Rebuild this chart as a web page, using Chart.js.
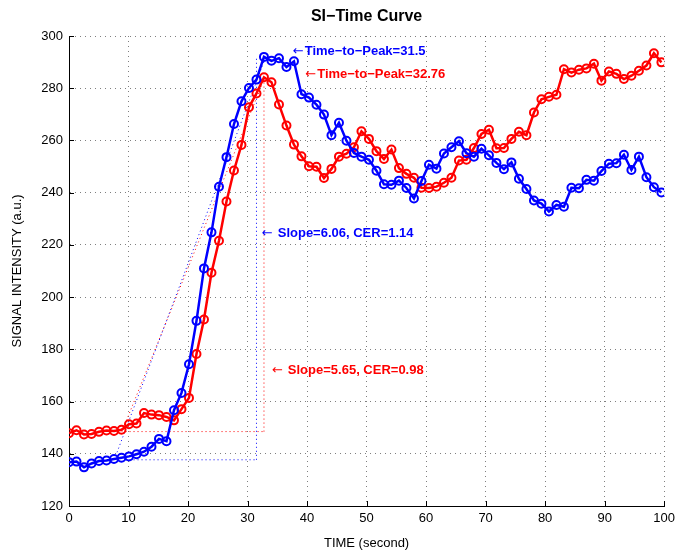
<!DOCTYPE html>
<html>
<head>
<meta charset="utf-8">
<title>SI-Time Curve</title>
<script src="https://cdn.jsdelivr.net/npm/chart.js@4.4.1/dist/chart.umd.min.js"></script>
<style>
  html, body { margin: 0; padding: 0; background: #ffffff; }
  #wrap { width: 680px; height: 555px; }
</style>
</head>
<body>
<div id="wrap"><canvas id="si" width="680" height="555"></canvas></div>
<script>
// Acquisition instants (seconds)
const timeSec = [
  0.00, 1.26, 2.52, 3.78, 5.04, 6.30, 7.56, 8.82, 10.08, 11.34,
  12.60, 13.86, 15.12, 16.38, 17.64, 18.90, 20.16, 21.42, 22.68, 23.94,
  25.20, 26.46, 27.72, 28.98, 30.24, 31.50, 32.76, 34.02, 35.28, 36.54,
  37.80, 39.06, 40.32, 41.58, 42.84, 44.10, 45.36, 46.62, 47.88, 49.14,
  50.40, 51.66, 52.92, 54.18, 55.44, 56.70, 57.96, 59.22, 60.48, 61.74,
  63.00, 64.26, 65.52, 66.78, 68.04, 69.30, 70.56, 71.82, 73.08, 74.34,
  75.60, 76.86, 78.12, 79.38, 80.64, 81.90, 83.16, 84.42, 85.68, 86.94,
  88.20, 89.46, 90.72, 91.98, 93.24, 94.50, 95.76, 97.02, 98.28, 99.54
];

// Signal intensity, first region (blue)
const siBlue = [
  136.8, 137.0, 134.8, 136.3, 137.2, 137.4, 138.0, 138.5, 139.0, 139.8,
  140.8, 142.7, 145.7, 144.8, 156.7, 163.3, 174.3, 190.9, 211.0, 224.8,
  242.3, 253.6, 266.3, 275.0, 280.1, 283.3, 292.0, 290.5, 291.5, 288.1,
  290.3, 277.7, 276.4, 273.7, 269.9, 262.0, 266.8, 259.9, 255.2, 253.8,
  252.6, 248.4, 243.2, 243.0, 244.6, 241.8, 237.8, 244.5, 250.7, 249.2,
  255.0, 257.4, 259.7, 255.1, 253.8, 256.8, 254.3, 251.4, 249.0, 251.6,
  245.3, 241.4, 237.0, 235.8, 232.8, 235.3, 234.6, 241.9, 241.7, 244.9,
  244.6, 248.3, 251.1, 251.3, 254.5, 248.7, 253.8, 245.9, 242.1, 240.1
];

// Signal intensity, second region (red)
const siRed = [
  147.9, 149.0, 147.4, 147.6, 148.4, 148.9, 148.7, 149.2, 151.3, 151.6,
  155.6, 155.0, 154.8, 154.1, 152.8, 157.1, 161.4, 178.2, 191.4, 209.3,
  221.6, 236.6, 248.5, 258.3, 272.7, 278.0, 284.2, 282.3, 273.8, 265.7,
  258.4, 253.9, 250.1, 249.9, 245.6, 249.1, 253.8, 254.9, 257.4, 263.5,
  260.6, 255.9, 252.9, 256.5, 249.4, 247.2, 245.7, 241.9, 241.8, 242.3,
  243.8, 245.7, 252.3, 252.6, 257.1, 262.5, 264.1, 257.0, 257.1, 260.6,
  263.3, 262.0, 270.7, 275.8, 276.7, 277.5, 287.3, 286.0, 287.1, 287.6,
  289.4, 282.9, 286.4, 285.5, 283.5, 284.8, 286.7, 288.7, 293.4, 289.9
];

// Axis ticks
const xTicks = [0, 10, 20, 30, 40, 50, 60, 70, 80, 90, 100];
const yTicks = [120, 140, 160, 180, 200, 220, 240, 260, 280, 300];

// Kinetic parameters of each curve
const ttpBlue = 31.5, ttpRed = 32.76;
const slopeBlue = 6.06, slopeRed = 5.65;
const cerBlue = 1.14, cerRed = 0.98;
const baseBlue = 137.7, baseRed = 148.5;
const peakBlue = 292.0, peakRed = 284.2;
const onsetBlue = 7.6, onsetRed = 8.9;   // where the wash-in fit leaves the baseline
const baseStart = 9.5;                     // left end of the baseline markers

const TITLE = 'SI\u2212Time Curve';
const BLUE = '#0000ff';
const RED = '#ff0000';
const FONT = '"Liberation Sans", Arial, Helvetica, sans-serif';
const ARROW_FONT = '13px "DejaVu Sans", sans-serif';

const pts = (ys) => timeSec.map((t, i) => ({ x: t, y: ys[i] }));

function curve(label, ys, color) {
  return {
    label, data: pts(ys), borderColor: color, borderWidth: 2.5,
    pointStyle: 'circle', pointRadius: 4, pointHoverRadius: 4,
    pointBorderWidth: 2, pointBorderColor: color,
    pointBackgroundColor: 'rgba(0,0,0,0)', tension: 0, fill: false
  };
}
function dotted(label, data, color) {
  return {
    label, data, borderColor: color, borderWidth: 1, borderDash: [1, 3],
    pointRadius: 0, pointHoverRadius: 0, tension: 0, fill: false
  };
}

const datasets = [
  curve('blue', siBlue, BLUE),
  curve('red', siRed, RED),
  dotted('ttpBlue', [{ x: ttpBlue, y: baseBlue }, { x: ttpBlue, y: peakBlue }], BLUE),
  dotted('ttpRed', [{ x: ttpRed, y: baseRed }, { x: ttpRed, y: peakRed }], RED),
  dotted('baseBlue', [{ x: baseStart, y: baseBlue }, { x: ttpBlue, y: baseBlue }], BLUE),
  dotted('baseRed', [{ x: baseStart, y: baseRed }, { x: ttpRed, y: baseRed }], RED),
  dotted('slopeBlue', [{ x: onsetBlue, y: baseBlue },
    { x: onsetBlue + (peakBlue - baseBlue) / slopeBlue, y: peakBlue }], BLUE),
  dotted('slopeRed', [{ x: onsetRed, y: baseRed },
    { x: onsetRed + (peakRed - baseRed) / slopeRed, y: peakRed }], RED)
];

// Text notes (arrow + label), anchored in data units
const notes = [
  { text: 'Time\u2212to\u2212Peak=' + ttpBlue, gap: 1, x: 37.6, y: 294.1, color: BLUE },
  { text: 'Time\u2212to\u2212Peak=' + ttpRed, gap: 1, x: 39.7, y: 285.3, color: RED },
  { text: 'Slope=' + slopeBlue.toFixed(2) + ', CER=' + cerBlue.toFixed(2), gap: 5, x: 32.4, y: 224.3, color: BLUE },
  { text: 'Slope=' + slopeRed.toFixed(2) + ', CER=' + cerRed.toFixed(2), gap: 5, x: 34.1, y: 171.8, color: RED }
];

const notesPlugin = {
  id: 'notes',
  afterDatasetsDraw(chart) {
    const { ctx, scales: { x, y } } = chart;
    ctx.save();
    ctx.textAlign = 'left';
    ctx.textBaseline = 'middle';
    notes.forEach(n => {
      const px = x.getPixelForValue(n.x), py = y.getPixelForValue(n.y);
      ctx.fillStyle = n.color;
      ctx.font = ARROW_FONT;
      ctx.fillText('\u2190', px, py);
      const aw = ctx.measureText('\u2190').width;
      ctx.font = 'bold 13px ' + FONT;
      ctx.fillText(n.text, px + aw + n.gap, py);
    });
    ctx.restore();
  }
};

// Title centred over the plotting area
const plotTitle = {
  id: 'plotTitle',
  afterDraw(chart) {
    const { ctx, chartArea: a } = chart;
    ctx.save();
    ctx.font = 'bold 16px ' + FONT;
    ctx.fillStyle = '#000';
    ctx.textAlign = 'center';
    ctx.textBaseline = 'middle';
    ctx.fillText(TITLE, (a.left + a.right) / 2, 17);
    ctx.restore();
  }
};

// Short tick marks pointing into the plot
const inwardTicks = {
  id: 'inwardTicks',
  beforeDatasetsDraw(chart) {
    const { ctx, chartArea: a, scales: { x, y } } = chart;
    ctx.save();
    ctx.strokeStyle = '#000';
    ctx.lineWidth = 1;
    ctx.beginPath();
    xTicks.forEach(v => {
      const px = Math.round(x.getPixelForValue(v)) + 0.5;
      ctx.moveTo(px, a.bottom); ctx.lineTo(px, a.bottom - 5);
    });
    yTicks.forEach(v => {
      const py = Math.round(y.getPixelForValue(v)) + 0.5;
      ctx.moveTo(a.left, py); ctx.lineTo(a.left + 5, py);
    });
    ctx.stroke();
    ctx.restore();
  }
};

new Chart(document.getElementById('si'), {
  type: 'line',
  data: { datasets },
  plugins: [inwardTicks, notesPlugin, plotTitle],
  options: {
    responsive: false,
    animation: false,
    devicePixelRatio: 1,
    layout: { padding: { left: 0, right: 13, top: 36, bottom: 0 } },
    plugins: {
      legend: { display: false },
      tooltip: { enabled: false },
      title: { display: false }
    },
    scales: {
      x: {
        type: 'linear', min: 0, max: 100,
        afterBuildTicks: s => { s.ticks = xTicks.map(v => ({ value: v })); },
        afterFit: s => { s.height = 49; },
        grid: { color: 'rgba(0,0,0,0.5)', lineWidth: 1, drawTicks: false },
        border: { display: true, color: '#000', width: 1, dash: [1, 4] },
        ticks: { color: '#000', padding: 5, maxRotation: 0, autoSkip: false,
                 font: { family: FONT, size: 13 } },
        title: { display: true, text: 'TIME (second)', color: '#000',
                 font: { family: FONT, size: 13 }, padding: { top: 0, bottom: 4 } }
      },
      y: {
        type: 'linear', min: 120, max: 300,
        afterBuildTicks: s => { s.ticks = yTicks.map(v => ({ value: v })); },
        afterFit: s => { s.width = 69; },
        grid: { color: 'rgba(0,0,0,0.5)', lineWidth: 1, drawTicks: false },
        border: { display: true, color: '#000', width: 1, dash: [1, 4] },
        ticks: { color: '#000', padding: 6, autoSkip: false,
                 font: { family: FONT, size: 13 } },
        title: { display: true, text: 'SIGNAL INTENSITY (a.u.)', color: '#000',
                 font: { family: FONT, size: 13 }, padding: { top: 10, bottom: 0 } }
      }
    }
  }
});
</script>
</body>
</html>
